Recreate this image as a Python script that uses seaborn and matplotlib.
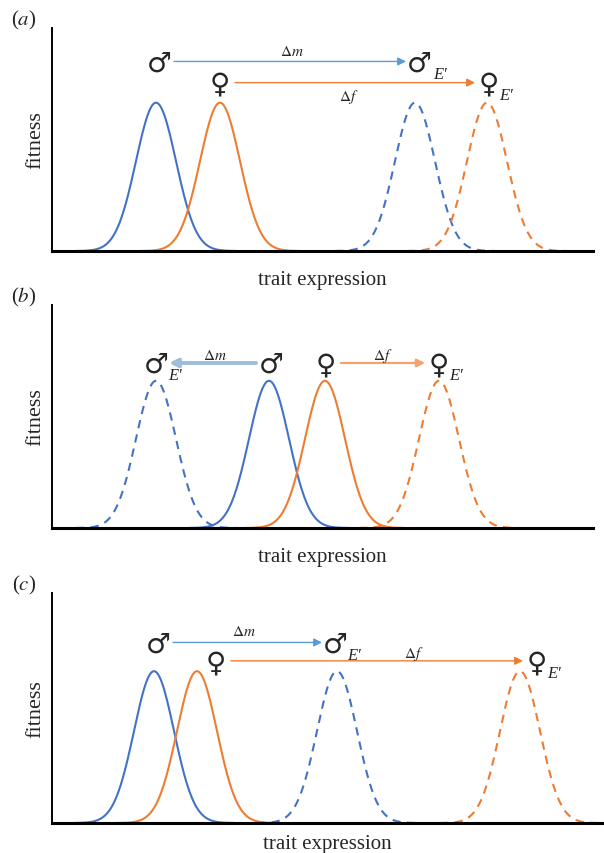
import matplotlib

matplotlib.use("Agg")
import matplotlib.pyplot as plt
import numpy as np
import pandas as pd
import seaborn as sns

sns.set_style("white")
plt.rcParams["font.family"] = ["Liberation Serif", "DejaVu Sans"]
plt.rcParams["mathtext.fontset"] = "stix"

# schematic fitness peaks, x in trait units (same scale as pixel columns)
panel_labels = ["($a$)", "($b$)", "($c$)"]
male_peak = [156, 269, 154]
female_peak = [220, 325, 197]
male_shift_peak = [415, 156, 337]
female_shift_peak = [487, 439, 520]
peak_height = [0.665, 0.66, 0.66]
peak_sd = 20

# sex symbols above the peaks
male_sym_x = [159, 271, 158]
female_sym_x = [220, 326, 216]
male_shift_sym_x = [419, 156, 335]
female_shift_sym_x = [489, 439, 537]
male_sym_y = [0.845, 0.735, 0.78]
female_sym_y = [0.75, 0.735, 0.70]
dm_pos = [(292, 0.895), (215, 0.775), (244, 0.835)]
df_pos = [(349, 0.695), (383, 0.775), (414, 0.74)]

# panel boxes in pixels: left, top, right, bottom
boxes = [(52, 29, 593, 252), (52, 306, 593, 529), (52, 594, 603, 824)]
xlabel_pad = [14, 14, 8]

BLUE = "#4472c4"
ORANGE = "#ed7d31"
ARROW_BLUE = "#5b9bd5"
W, H = 604, 854


def bell(centre, height):
    xs = np.linspace(centre - 4 * peak_sd, centre + 4 * peak_sd, 200)
    return pd.DataFrame({"x": xs, "y": height * np.exp(-0.5 * ((xs - centre) / peak_sd) ** 2)})


def sex_symbol(ax, x, y, sym, shifted, dx=7):
    ax.text(x, y, sym, ha="center", va="center", fontsize=20, family="DejaVu Sans")
    if shifted:
        ax.annotate("E\u2032", (x, y), xytext=(dx, -8), textcoords="offset points",
                    ha="left", va="center", fontsize=12, style="italic")


fig = plt.figure(figsize=(6.04, 8.54), dpi=100)

for i in range(3):
    l, t, r, b = boxes[i]
    ax = fig.add_axes([l / W, 1 - b / H, (r - l) / W, (b - t) / H])
    h = peak_height[i]

    sns.lineplot(data=bell(male_peak[i], h), x="x", y="y", ax=ax, color=BLUE, lw=1.5)
    sns.lineplot(data=bell(female_peak[i], h), x="x", y="y", ax=ax, color=ORANGE, lw=1.5)
    sns.lineplot(data=bell(male_shift_peak[i], h), x="x", y="y", ax=ax, color=BLUE,
                 lw=1.5, linestyle=(0, (4, 3)))
    sns.lineplot(data=bell(female_shift_peak[i], h), x="x", y="y", ax=ax, color=ORANGE,
                 lw=1.5, linestyle=(0, (4, 3)))

    sex_symbol(ax, male_sym_x[i], male_sym_y[i], "♂", False)
    sex_symbol(ax, female_sym_x[i], female_sym_y[i], "♀", False)
    sex_symbol(ax, male_shift_sym_x[i], male_sym_y[i], "♂", True, dx=10 if i == 0 else 9)
    sex_symbol(ax, female_shift_sym_x[i], female_sym_y[i], "♀", True)

    # shift arrows
    gap = 15
    d = np.sign(male_shift_sym_x[i] - male_sym_x[i])
    m_lw = 2.8 if d < 0 else 1.0
    m_col = "#9dbddc" if d < 0 else ARROW_BLUE
    ax.annotate("", xy=(male_shift_sym_x[i] - d * 13, male_sym_y[i] + 0.005),
                xytext=(male_sym_x[i] + d * gap, male_sym_y[i] + 0.005),
                arrowprops=dict(arrowstyle="-|>", color=m_col, lw=m_lw,
                                mutation_scale=12, shrinkA=0, shrinkB=0))
    f_col = "#f4a36f" if i == 1 else ORANGE
    f_lw = 1.6 if i == 1 else 1.0
    ax.annotate("", xy=(female_shift_sym_x[i] - 14, female_sym_y[i] + 0.005),
                xytext=(female_sym_x[i] + gap, female_sym_y[i] + 0.005),
                arrowprops=dict(arrowstyle="-|>", color=f_col, lw=f_lw,
                                mutation_scale=12, shrinkA=0, shrinkB=0))

    ax.text(*dm_pos[i], r"$\Delta m$", ha="center", va="center", fontsize=11)
    ax.text(*df_pos[i], r"$\Delta f$", ha="center", va="center", fontsize=11)

    ax.set_xlim(l, r)
    ax.set_ylim(0, 1)
    ax.set_xticks([])
    ax.set_yticks([])
    ax.set_xlabel("trait expression", fontsize=15, labelpad=xlabel_pad[i])
    ax.set_ylabel("fitness", fontsize=16, labelpad=5)
    sns.despine(ax=ax)
    ax.spines["left"].set_linewidth(1.4)
    ax.spines["bottom"].set_linewidth(2.2)
    ax.spines["left"].set_color("black")
    ax.spines["bottom"].set_color("black")

    fig.text(24 / W, 1 - (t - 9) / H, panel_labels[i], ha="center", va="center", fontsize=15)

fig.savefig("out.png", dpi=100)
